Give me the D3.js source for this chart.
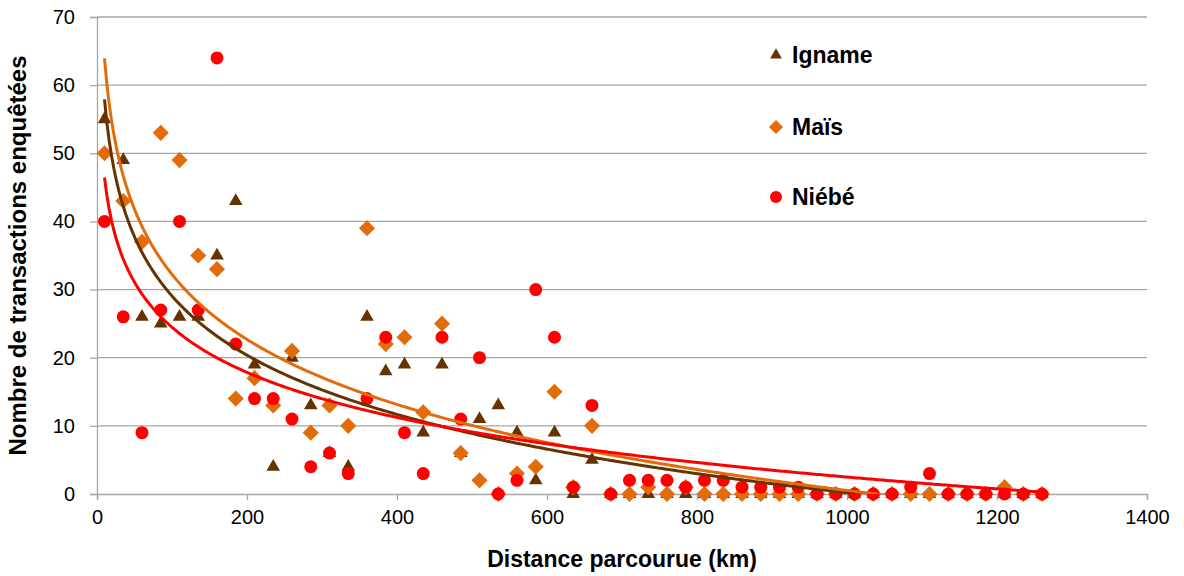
<!DOCTYPE html>
<html><head><meta charset="utf-8">
<script src="https://cdn.jsdelivr.net/npm/d3@7"></script>
<style>
body{margin:0;background:#fff}
text{font-family:"Liberation Sans",Arial,sans-serif}
</style>
</head><body>
<svg id="chart" width="1184" height="576"></svg>
<script>
// ---- data ----
const distances = [10,35,60,85,110,135,160,185,210,235,260,285,310,335,360,385,410,435,460,485,
  510,535,560,585,610,635,660,685,710,735,760,785,810,835,860,885,910,935,960,985,
  1010,1035,1060,1085,1110,1135,1160,1185,1210,1235,1260];
const igname = [55,49,26,25,26,26,35,43,19,4,20,13,6,4,26,18,19,9,19,6,
  11,13,9,2,9,0,5,0,0,0,0,0,0,0,0,0,0,0,0,0,
  0,0,0,0,0,0,0,0,0,0,0];
const mais = [50,43,37,53,49,35,33,14,17,13,21,9,13,10,39,22,23,12,25,6,
  2,0,3,4,15,1,10,0,0,1,0,1,0,0,0,0,0,0,0,0,
  0,0,0,0,0,0,0,0,1,0,0];
const niebe = [40,26,9,27,40,27,64,22,14,14,11,4,6,3,14,23,9,3,23,11,
  20,0,2,30,23,1,13,0,2,2,2,1,2,2,1,1,1,1,0,0,
  0,0,0,1,3,0,0,0,0,0,0];
const seriesNames = ["Igname","Maïs","Niébé"];
const seriesColors = ["#663300","#E36C0A","#FF0000"];
const xTicks = [0,200,400,600,800,1000,1200,1400];
const yTicks = [0,10,20,30,40,50,60,70];
const xTitle = "Distance parcourue (km)";
const yTitle = "Nombre de transactions enquêtées";

// ---- layout ----
const svg = d3.select("#chart");
const L = 97, R = 1147, T = 17, B = 494;
const x = d3.scaleLinear().domain([0,1400]).range([L,R]);
const y = d3.scaleLinear().domain([0,70]).range([B,T]);
const grid = "#A6A6A6";

// gridlines
svg.append("g").selectAll("line").data(yTicks.filter(d=>d>0)).join("line")
  .attr("x1",L).attr("x2",R).attr("y1",d=>y(d)).attr("y2",d=>y(d))
  .attr("stroke",grid).attr("stroke-width",1.3);

// axes
const xAxis = svg.append("g").attr("transform",`translate(0,${B})`)
  .call(d3.axisBottom(x).tickValues(xTicks).tickSize(6).tickPadding(10).tickFormat(d3.format("d")));
const yAxis = svg.append("g").attr("transform",`translate(${L},0)`)
  .call(d3.axisLeft(y).tickValues(yTicks).tickSize(7).tickPadding(15).tickFormat(d3.format("d")));
[xAxis,yAxis].forEach(a=>{
  a.select(".domain").attr("stroke",grid).attr("stroke-width",1.3);
  a.selectAll(".tick line").attr("stroke",grid).attr("stroke-width",1.3);
  a.selectAll(".tick text").attr("fill","#000").style("font-size","20px")
   .style("font-family","'Liberation Sans',Arial,sans-serif");
});

// clip
svg.append("defs").append("clipPath").attr("id","plot")
  .append("rect").attr("x",L).attr("y",T).attr("width",R-L).attr("height",B-T);

const series = [igname, mais, niebe];
const symbols = [
  d3.symbol(d3.symbolTriangle, 80),
  d3.symbol(d3.symbolSquare, 130),
  null
];

// markers
series.forEach((vals,i)=>{
  const g = svg.append("g");
  const pts = distances.map((d,j)=>({d, v: vals[j]}));
  if (i===2) {
    g.selectAll("circle").data(pts).join("circle")
      .attr("cx",p=>x(p.d)).attr("cy",p=>y(p.v)).attr("r",6.5).attr("fill",seriesColors[i]);
  } else {
    g.selectAll("path").data(pts).join("path")
      .attr("d",symbols[i])
      .attr("transform",p=>`translate(${x(p.d)},${y(p.v)})${i===1?" rotate(45)":""}`)
      .attr("fill",seriesColors[i]);
  }
});

// logarithmic trendlines (least squares on ln x)
function logFit(xs, ys){
  const lx = xs.map(Math.log);
  const mx = d3.mean(lx), my = d3.mean(ys);
  let num=0, den=0;
  lx.forEach((v,k)=>{ num += (v-mx)*(ys[k]-my); den += (v-mx)*(v-mx); });
  const b = num/den, a = my - b*mx;
  return t => a + b*Math.log(t);
}
const xmin = d3.min(distances), xmax = d3.max(distances);
const samples = d3.range(0,401).map(k => xmin + (xmax-xmin)*k/400);
const tg = svg.append("g").attr("clip-path","url(#plot)");
series.forEach((vals,i)=>{
  const f = logFit(distances, vals);
  tg.append("path").datum(samples)
    .attr("d", d3.line().x(t=>x(t)).y(t=>y(f(t))))
    .attr("fill","none").attr("stroke",seriesColors[i]).attr("stroke-width",3);
});

// legend
const legendY = [55,127,197];
seriesNames.forEach((n,i)=>{
  const g = svg.append("g").attr("transform",`translate(776,${legendY[i]})`);
  if (i===0) g.append("path").attr("d",d3.symbol(d3.symbolTriangle,60)).attr("fill",seriesColors[i]);
  if (i===1) g.append("path").attr("d",d3.symbol(d3.symbolSquare,100)).attr("transform","rotate(45)").attr("fill",seriesColors[i]);
  if (i===2) g.append("circle").attr("r",6).attr("fill",seriesColors[i]);
  g.append("text").attr("x",16).attr("y",8).text(n)
    .style("font-size","23px").style("font-weight","bold").attr("fill","#000");
});

// titles
svg.append("text").attr("x",(L+R)/2).attr("y",567).attr("text-anchor","middle")
  .style("font-size","23px").style("font-weight","bold").text(xTitle);
svg.append("text").attr("transform",`translate(26,${(T+B)/2}) rotate(-90)`).attr("text-anchor","middle")
  .style("font-size","24px").style("font-weight","bold").text(yTitle);
</script>
</body></html>
